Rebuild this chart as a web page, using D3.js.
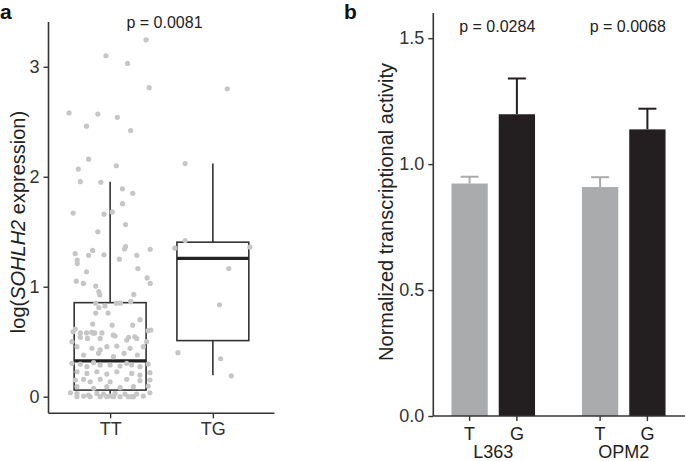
<!DOCTYPE html>
<html><head><meta charset="utf-8">
<script src="https://cdn.jsdelivr.net/npm/d3@7"></script>
<style>
body{margin:0;background:#fff;}
svg text{font-family:"Liberation Sans",Arial,Helvetica,sans-serif;}
</style>
</head><body>
<svg id="c" width="685" height="461"></svg>
<script>
// ---------- Panel a data ----------
const genotypes = ["TT","TG"];
const boxLower  = [0.0, 0.195];
const boxQ1     = [0.06, 0.51];
const boxMedian = [0.325, 1.258];
const boxQ3     = [0.855, 1.405];
const boxUpper  = [1.955, 2.12];
const pA = "p = 0.0081";
const yTicksA = [0,1,2,3];

// jittered observations: [horizontal jitter (category units), value]
const ttPoints = [
[0.35,3.245],[-0.04,3.10],[0.17,3.03],[0.38,2.81],[-0.40,2.58],[-0.12,2.57],[0.07,2.54],[-0.23,2.46],[0.20,2.42],[-0.21,2.16],
[-0.31,2.07],[0.06,2.10],[-0.29,1.955],[-0.09,1.95],[0.12,1.89],[0.22,1.85],[0.12,1.755],[-0.36,1.67],[-0.06,1.66],[0.02,1.68],
[0.15,1.565],[-0.12,1.50],[0.39,1.34],[0.15,1.364],[0.14,1.343],[-0.17,1.33],[-0.34,1.30],[-0.21,1.285],[-0.06,1.29],[0.26,1.285],
[-0.32,1.243],[-0.32,1.21],[0.09,1.25],[0.27,1.165],[-0.23,1.136],[0.36,1.08],[-0.33,1.05],[-0.26,1.03],[-0.14,1.006],[-0.11,0.955],
[-0.10,0.925],[0.39,1.03],[0.23,0.93],[-0.14,0.85],[0.06,0.85],[0.10,0.85],[0.20,0.864],[-0.05,0.825],[-0.11,0.81],[-0.14,0.76],
[-0.02,0.76],[0.29,0.70],[-0.17,0.66],[0.02,0.65],[0.22,0.65],[-0.34,0.615],[-0.36,0.59],[-0.29,0.58],[-0.23,0.58],[-0.18,0.585],
[-0.15,0.58],[-0.08,0.58],[0.03,0.56],[0.37,0.60],[0.18,0.54],[0.24,0.545],
[-0.371,0.50],[-0.29,0.54],[-0.22,0.53],[-0.161,0.576],[-0.097,0.53],[0.048,0.552],[0.161,0.515],[0.258,0.53],[0.355,0.50],[0.397,0.606],
[-0.323,0.455],[-0.177,0.44],[-0.097,0.425],[-0.032,0.455],[0.065,0.46],[0.194,0.44],[0.323,0.455],
[-0.258,0.379],[-0.113,0.394],[0.032,0.364],[0.136,0.394],[0.265,0.379],
[-0.371,0.303],[-0.29,0.297],[-0.226,0.273],[-0.161,0.31],[-0.097,0.288],[0,0.288],[0.097,0.279],[0.161,0.303],[0.21,0.288],[0.29,0.273],[0.371,0.297],
[-0.323,0.227],[-0.226,0.212],[-0.129,0.227],[-0.032,0.206],[0.065,0.227],[0.21,0.212],[0.29,0.197],[0.387,0.218],
[-0.339,0.152],[-0.258,0.158],[-0.194,0.136],[-0.097,0.158],[0,0.136],[0.161,0.158],[0.29,0.146],[0.387,0.152],
[-0.323,0.091],[-0.161,0.076],[-0.032,0.091],[0.097,0.082],[0.226,0.091],[0.371,0.097],
[-0.387,0.036],[-0.323,0.03],[-0.258,0.006],[-0.21,0.015],[-0.129,0.03],[-0.065,0.024],[0,0.006],[0.048,0.03],[0.097,0],[0.145,0.024],
[0.21,0],[0.258,0.024],[0.323,0.006],[0.387,0.036],
[-0.323,0],[-0.194,0],[-0.097,0],[-0.032,0],[0.032,0],[0.177,0],[0.226,0]
];
const tgPoints = [
[0.14,2.80],[-0.27,2.12],[-0.27,1.42],[-0.37,1.35],[0.36,1.36],[0.155,1.165],[0.065,0.836],[-0.34,0.40],[0.075,0.345],[0.18,0.19]
];

// ---------- Panel b data ----------
const cellLines = ["L363","OPM2"];
const alleles = ["T","G"];
const meanT = [0.923, 0.909];
const meanG = [1.198, 1.138];
const errT  = [0.027, 0.039];
const errG  = [0.142, 0.082];
const pB = ["p = 0.0284","p = 0.0068"];
const yTicksB = [0, 0.5, 1.0, 1.5];

const svg = d3.select("#c");
const axisCol = "#333333";
const textCol = "#333333";
const fs = 18;
const fsTitle = 20;

// ================= Panel a =================
const ya = d3.scaleLinear().domain([-0.151, 3.407]).range([413.3, 22]);
const xa = d3.scalePoint().domain(genotypes).range([48.5, 274.5]).padding(0.6);
const stepA = xa.step();
const boxW = 0.7*stepA;

svg.append("text").attr("x",0).attr("y",19).attr("font-size",21).attr("font-weight","bold").attr("fill","#111").text("a");

const ga = svg.append("g");
const yAxA = d3.axisLeft(ya).tickValues(yTicksA).tickSize(5).tickPadding(4).tickFormat(d3.format("d"));
const gyA = ga.append("g").attr("transform","translate(48.5,0)").call(yAxA);
const xAxA = d3.axisBottom(xa).tickSize(5).tickPadding(4);
const gxA = ga.append("g").attr("transform","translate(0,413.3)").call(xAxA);
[gyA,gxA].forEach(g=>{
  g.select(".domain").attr("stroke",axisCol).attr("stroke-width",1.6);
  g.selectAll(".tick line").attr("stroke",axisCol).attr("stroke-width",1.4);
  g.selectAll(".tick text").attr("fill",textCol).attr("font-size",fs).attr("font-family","Liberation Sans, Arial, sans-serif");
});
gyA.select(".domain").attr("d","M0,22V413.3");
gxA.select(".domain").attr("d","M48.5,0H274.5");

genotypes.forEach((g,i)=>{
  const cx = xa(g);
  ga.append("line").attr("x1",cx).attr("x2",cx).attr("y1",ya(boxQ3[i])).attr("y2",ya(boxUpper[i]))
    .attr("stroke",axisCol).attr("stroke-width",1.6);
  ga.append("line").attr("x1",cx).attr("x2",cx).attr("y1",ya(boxQ1[i])).attr("y2",ya(boxLower[i]))
    .attr("stroke",axisCol).attr("stroke-width",1.6);
  ga.append("rect").attr("x",cx-boxW/2).attr("width",boxW)
    .attr("y",ya(boxQ3[i])).attr("height",ya(boxQ1[i])-ya(boxQ3[i]))
    .attr("fill","none").attr("stroke",axisCol).attr("stroke-width",1.6);
  ga.append("line").attr("x1",cx-boxW/2).attr("x2",cx+boxW/2).attr("y1",ya(boxMedian[i])).attr("y2",ya(boxMedian[i]))
    .attr("stroke","#222").attr("stroke-width",3.2);
});
const ptCol = "#c6c6c6";
ga.append("g").selectAll("circle").data(ttPoints).join("circle")
  .attr("cx",d=>xa("TT")+d[0]*stepA).attr("cy",d=>ya(d[1])).attr("r",2.6).attr("fill",ptCol);
ga.append("g").selectAll("circle").data(tgPoints).join("circle")
  .attr("cx",d=>xa("TG")+d[0]*stepA).attr("cy",d=>ya(d[1])).attr("r",2.6).attr("fill",ptCol);

ga.append("text").attr("x",(xa("TT")+xa("TG"))/2+3).attr("y",28).attr("text-anchor","middle")
  .attr("font-size",16).attr("fill","#222").text(pA);

const yl = ga.append("text").attr("transform","translate(25,222) rotate(-90)").attr("text-anchor","middle")
  .attr("font-size",fsTitle).attr("fill","#222");
yl.append("tspan").text("log(");
yl.append("tspan").attr("font-style","italic").text("SOHLH2");
yl.append("tspan").text(" expression)");

// ================= Panel b =================
const yb = d3.scaleLinear().domain([0,1.6]).range([416,13]);
const xb = d3.scaleBand().domain(cellLines).range([428,689]);
const xin = d3.scalePoint().domain(alleles).range([0,xb.bandwidth()]).padding(0.88);
const barW = 36.3;

svg.append("text").attr("x",344).attr("y",19).attr("font-size",21).attr("font-weight","bold").attr("fill","#111").text("b");

const gb = svg.append("g");
const barData = [];
cellLines.forEach((c,i)=>{
  barData.push({cell:c, allele:"T", v:meanT[i], e:errT[i], col:"#aaabad"});
  barData.push({cell:c, allele:"G", v:meanG[i], e:errG[i], col:"#231f20"});
});
const cxB = d=>xb(d.cell)+xin(d.allele);
gb.selectAll("rect.bar").data(barData).join("rect").attr("class","bar")
  .attr("x",d=>cxB(d)-barW/2).attr("width",barW)
  .attr("y",d=>yb(d.v)).attr("height",d=>yb(0)-yb(d.v)).attr("fill",d=>d.col);
gb.selectAll("line.eb").data(barData).join("line").attr("class","eb")
  .attr("x1",cxB).attr("x2",cxB).attr("y1",d=>yb(d.v)).attr("y2",d=>yb(d.v+d.e))
  .attr("stroke",d=>d.col).attr("stroke-width",2);
gb.selectAll("line.cap").data(barData).join("line").attr("class","cap")
  .attr("x1",d=>cxB(d)-9).attr("x2",d=>cxB(d)+9).attr("y1",d=>yb(d.v+d.e)).attr("y2",d=>yb(d.v+d.e))
  .attr("stroke",d=>d.col).attr("stroke-width",2);

const yAxB = d3.axisLeft(yb).tickValues(yTicksB).tickSize(5).tickPadding(4).tickFormat(d3.format(".1f"));
const gyB = gb.append("g").attr("transform","translate(433.3,0)").call(yAxB);
gyB.select(".domain").attr("d","M0,13V416").attr("stroke",axisCol).attr("stroke-width",1.6);
gyB.selectAll(".tick line").attr("stroke",axisCol).attr("stroke-width",1.4);
gyB.selectAll(".tick text").attr("fill",textCol).attr("font-size",fs).attr("font-family","Liberation Sans, Arial, sans-serif");
gb.append("line").attr("x1",433.3).attr("x2",685).attr("y1",yb(0)).attr("y2",yb(0)).attr("stroke",axisCol).attr("stroke-width",1.6);

gb.selectAll("line.xt").data(barData).join("line").attr("class","xt")
  .attr("x1",cxB).attr("x2",cxB).attr("y1",yb(0)).attr("y2",yb(0)+5).attr("stroke",axisCol).attr("stroke-width",1.4);
gb.selectAll("text.al").data(barData).join("text").attr("class","al")
  .attr("x",cxB).attr("y",440).attr("text-anchor","middle").attr("font-size",fs).attr("fill","#222").text(d=>d.allele);
gb.selectAll("text.cl").data(cellLines).join("text").attr("class","cl")
  .attr("x",d=>xb(d)+xb.bandwidth()/2).attr("y",458).attr("text-anchor","middle").attr("font-size",fs).attr("fill","#222").text(d=>d);
gb.selectAll("text.pv").data(cellLines).join("text").attr("class","pv")
  .attr("x",d=>xb(d)+xb.bandwidth()/2+4).attr("y",32).attr("text-anchor","middle").attr("font-size",16).attr("fill","#222")
  .text((d,i)=>pB[i]);

gb.append("text").attr("transform","translate(393,212) rotate(-90)").attr("text-anchor","middle")
  .attr("font-size",fsTitle).attr("fill","#222").text("Normalized transcriptional activity");
</script>
</body></html>
